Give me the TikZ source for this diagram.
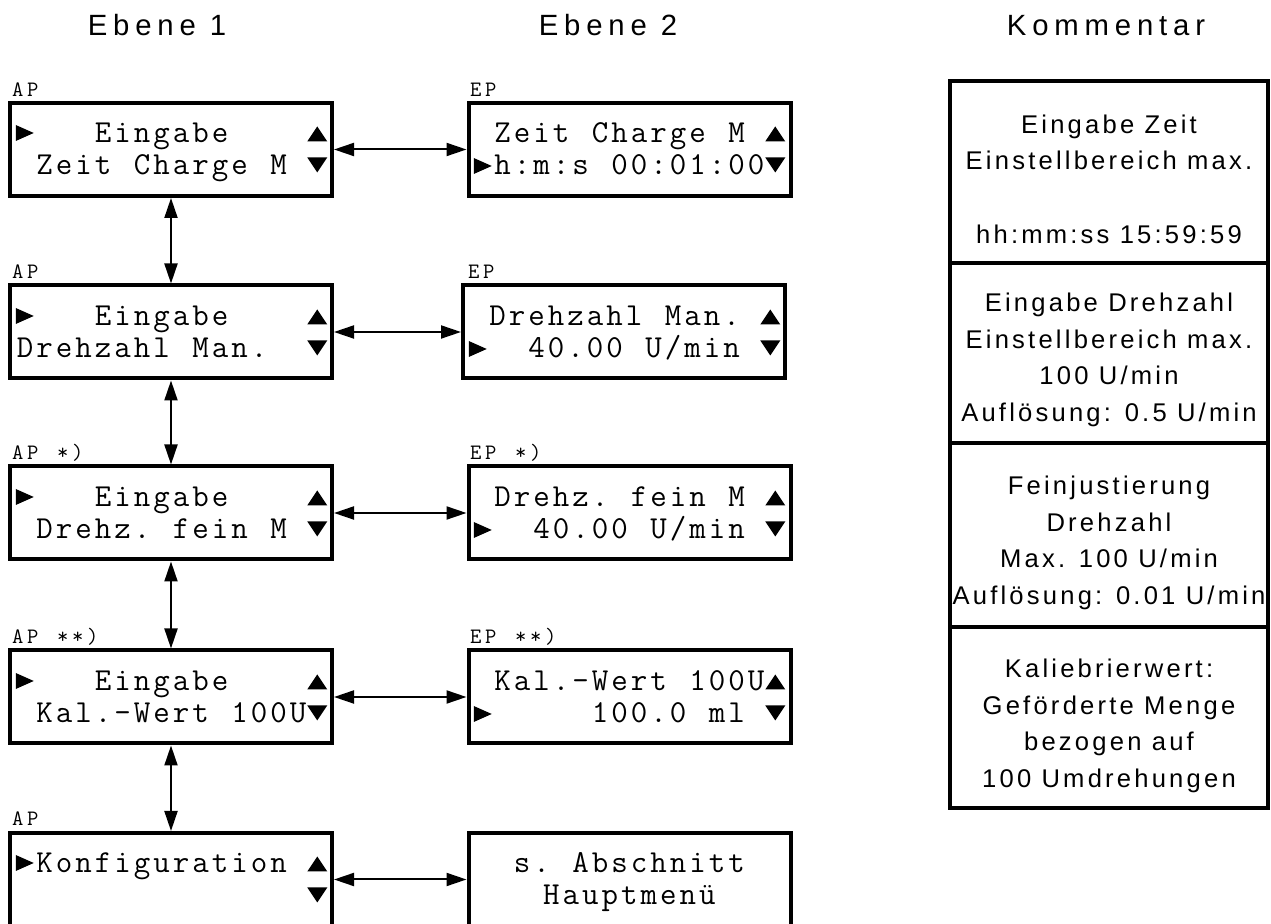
\documentclass[tikz,border=0pt]{standalone}
\usepackage{fontspec}
\usetikzlibrary{arrows.meta}
\newfontfamily\cmtfont[LetterSpace=12.5]{Liberation Sans}
\newfontfamily\hdrfont[LetterSpace=20]{Liberation Sans}
\newlength\lcdw
\makeatletter
\def\lcdrun#1{\lcd@loop#1\relax}
\def\lcd@loop#1{\ifx\relax#1\else\makebox[\lcdw][c]{#1}\expandafter\lcd@loop\fi}
\makeatother
\tikzset{
  lcdbox/.style={draw, line width=2pt, minimum width=161pt, minimum height=46.5pt, inner sep=0pt},
  lcdtxt/.style={font=\fontsize{16}{16}\selectfont\ttfamily\setlength\lcdw{9.75pt}, inner sep=0pt, anchor=base west},
  lbl/.style={font=\fontsize{11}{11}\selectfont\ttfamily\setlength\lcdw{7.5pt}, inner sep=0pt, anchor=base west},
  cmtbox/.style={draw, line width=2pt, minimum width=159pt, inner sep=0pt},
  cmt/.style={align=center, inner sep=0pt, font=\cmtfont\fontsize{12.8}{18.3}\selectfont},
  hdr/.style={font=\hdrfont\fontsize{14.65}{14.65}\selectfont, inner sep=0pt, anchor=base},
  dbl/.style={{Triangle[length=10pt,width=6.5pt]}-{Triangle[length=10pt,width=6.5pt]}, line width=1pt},
  pics/tR/.style={code={\fill (-9,-8) -- (9,0) -- (-9,8) -- cycle;}},
  pics/tU/.style={code={\fill (-10,7.5) -- (0,-7.5) -- (10,7.5) -- cycle;}},
  pics/tD/.style={code={\fill (-10,-7.5) -- (0,7.5) -- (10,-7.5) -- cycle;}},
}
\newcommand\lcdline[5]{\node[lcdtxt] (#1) at ({#2+19.5*#3},#4) {\lcdrun{#5}};}
\newcommand\leftdeco[1]{%
  \pic at (24.75,{#1+30}) {tR};
  \pic at (317.25,{#1+31}) {tU};
  \pic at (317.25,{#1+62}) {tD};}
\newcommand\rightdeco[2]{%
  \pic at ({#1+302.25},{#2+31}) {tU};
  \pic at ({#1+9.75},{#2+63}) {tR};
  \pic at ({#1+302.25},{#2+62}) {tD};}
\begin{document}
\begin{tikzpicture}[x=0.5pt,y=-0.5pt]
\clip (0,0) rectangle (1271,924);
% headers
\node[hdr] (H1) at (157,36) {Ebene 1};
\node[hdr] (H2) at (608,36) {Ebene 2};
\node[hdr] (H3) at (1106,36) {Kommentar};
% boxes
\node[lcdbox] (L1) at (171,149.5) {};
\node[lcdbox] (L2) at (171,332) {};
\node[lcdbox] (L3) at (171,513) {};
\node[lcdbox] (L4) at (171,697) {};
\node[lcdbox] (L5) at (171,879.5) {};
\node[lcdbox] (R1) at (629.5,149.5) {};
\node[lcdbox] (R2) at (624,332) {};
\node[lcdbox] (R3) at (629.5,513) {};
\node[lcdbox] (R4) at (629.5,697) {};
\node[lcdbox] (R5) at (629.5,879.5) {};
% labels
\node[lbl] (a1) at (10,97) {\lcdrun{AP}};
\node[lbl] (e1) at (468,97) {\lcdrun{EP}};
\node[lbl] (a2) at (10,279) {\lcdrun{AP}};
\node[lbl] (e2) at (466,279) {\lcdrun{EP}};
\node[lbl] (a3) at (10,460) {\lcdrun{AP~*)}};
\node[lbl] (e3) at (468,460) {\lcdrun{EP~*)}};
\node[lbl] (a4) at (10,644) {\lcdrun{AP~**)}};
\node[lbl] (e4) at (468,644) {\lcdrun{EP~**)}};
\node[lbl] (a5) at (10,826) {\lcdrun{AP}};
% left texts
\lcdline{l1a}{15}{4}{143}{Eingabe}
\lcdline{l1b}{15}{1}{175}{Zeit~Charge~M}
\lcdline{l2a}{15}{4}{326}{Eingabe}
\lcdline{l2b}{15}{0}{358}{Drehzahl~Man.}
\lcdline{l3a}{15}{4}{507}{Eingabe}
\lcdline{l3b}{15}{1}{539}{Drehz.~fein~M}
\lcdline{l4a}{15}{4}{691}{Eingabe}
\lcdline{l4b}{15}{1}{723}{Kal.-Wert~100U}
\lcdline{l5a}{15}{1}{873}{Konfiguration}
% right texts
\lcdline{r1a}{473}{1}{143}{Zeit~Charge~M}
\lcdline{r1b}{473}{1}{175}{h:m:s~00:01:00}
\lcdline{r2a}{468}{1}{326}{Drehzahl~Man.}
\lcdline{r2b}{468}{3}{358}{40.00~U/min}
\lcdline{r3a}{473}{1}{507}{Drehz.~fein~M}
\lcdline{r3b}{473}{3}{539}{40.00~U/min}
\lcdline{r4a}{473}{1}{691}{Kal.-Wert~100U}
\lcdline{r4b}{473}{6}{723}{100.0~ml}
\lcdline{r5a}{473}{2}{873}{s.~Abschnitt}
\lcdline{r5b}{473}{3.5}{905}{Hauptmenü}
% triangles
\leftdeco{103}
\leftdeco{286}
\leftdeco{467}
\leftdeco{651}
\leftdeco{833}
\rightdeco{473}{103}
\rightdeco{468}{286}
\rightdeco{473}{467}
\rightdeco{473}{651}
% comments
\node[cmtbox, minimum height=91pt] (C1) at (1109,172) {};
\node[cmtbox, minimum height=90pt] (C2) at (1109,353) {};
\node[cmtbox, minimum height=92pt] (C3) at (1109,535) {};
\node[cmtbox, minimum height=90.5pt] (C4) at (1109,717.5) {};
\node[cmt] (T1) at (1109,179) {Eingabe Zeit\\Einstellbereich max.\\[18.3pt]hh:mm:ss 15:59:59};
\node[cmt] (T2) at (1109,360) {Eingabe Drehzahl\\Einstellbereich max.\\100 U/min\\Auflösung: 0.5 U/min};
\node[cmt] (T3) at (1109,543) {Feinjustierung\\Drehzahl\\Max. 100 U/min\\Auflösung: 0.01 U/min};
\node[cmt] (T4) at (1109,726) {Kaliebrierwert:\\Geförderte Menge\\bezogen auf\\100 Umdrehungen};
% connectors
\draw[dbl] (L1.east) -- (R1.west);
\draw[dbl] (L2.east) -- (R2.west);
\draw[dbl] (L3.east) -- (R3.west);
\draw[dbl] (L4.east) -- (R4.west);
\draw[dbl] (L5.east) -- (R5.west);
\draw[dbl] (L1.south) -- (L2.north);
\draw[dbl] (L2.south) -- (L3.north);
\draw[dbl] (L3.south) -- (L4.north);
\draw[dbl] (L4.south) -- (L5.north);
\end{tikzpicture}
\end{document}
